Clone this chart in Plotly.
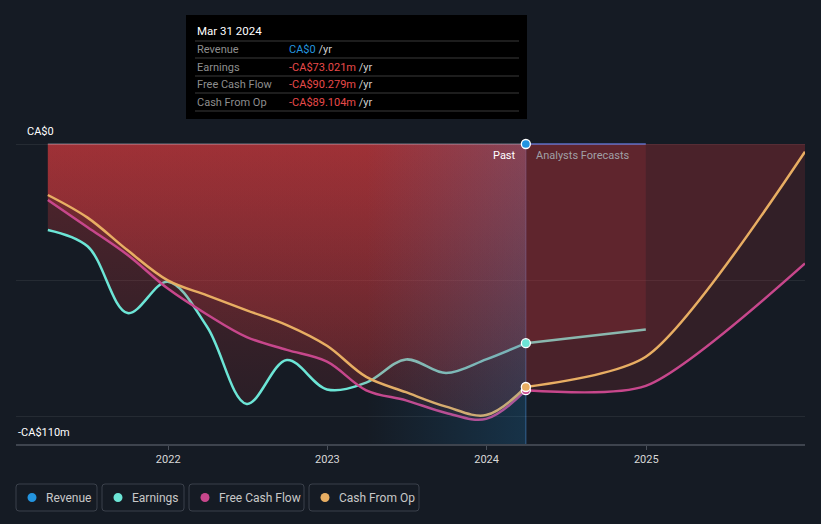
import plotly.graph_objects as go

# ---------------- data ----------------
past_dates = ['2021-03-31', '2021-06-30', '2021-09-30', '2021-12-31',
              '2022-03-31', '2022-06-30', '2022-09-30', '2022-12-31',
              '2023-03-31', '2023-06-30', '2023-09-30', '2023-12-31',
              '2024-03-31']
revenue_past = [0, 0, 0, 0, 0, 0, 0, 0, 0, 0, 0, 0, 0]
earnings_past = [-31.5, -37.5, -62.0, -50.5, -67.0, -95.3, -79.2, -90.0,
                 -87.5, -79.0, -84.0, -79.0, -73.021]
fcf_past = [-20.5, -30.5, -40.7, -53.0, -62.5, -70.8, -75.5, -79.8,
            -90.3, -94.0, -98.6, -100.8, -90.279]
cfo_past = [-18.7, -27.0, -39.0, -50.0, -55.5, -61.0, -66.4, -74.0,
            -85.4, -91.0, -96.3, -99.4, -89.104]

fc_dates_short = ['2024-03-31', '2024-12-31']
revenue_fc = [0, 0]
earnings_fc = [-73.021, -68.0]
fc_dates_long = ['2024-03-31', '2024-12-31', '2025-12-31']
fcf_fc = [-90.279, -88.7, -43.8]
cfo_fc = [-89.104, -78.0, -2.8]

year_ticks = ['2022-01-01', '2023-01-01', '2024-01-01', '2025-01-01']
year_labels = ['2022', '2023', '2024', '2025']
y_bottom = -110
series_names = ['Revenue', 'Earnings', 'Free Cash Flow', 'Cash From Op']

# ---------------- style ----------------
BG = '#151b24'
C_REV = '#2394df'
C_EARN = '#6ce5d6'
C_FCF = '#c7478c'
C_CFO = '#e8ae63'
FONT = 'Roboto, "Open Sans", sans-serif'

W, H = 821, 524
L, R, T, B = 16, 805, 0, 444


def px(x):
    return (x - L) / (R - L)


def py(y):
    return (B - y) / (B - T)


past_grad = dict(type='vertical', start=y_bottom, stop=0,
                 colorscale=[[0, 'rgba(230,60,64,0.07)'], [1, 'rgba(230,60,64,0.30)']])
fc_fill = 'rgba(225,58,62,0.14)'

fig = go.Figure()

# past fills + lines
for vals, col in [(earnings_past, C_EARN), (fcf_past, C_FCF), (cfo_past, C_CFO)]:
    fig.add_trace(go.Scatter(x=past_dates, y=vals, mode='lines',
                             line=dict(color=col, width=2.5, shape='spline', smoothing=1.0),
                             fill='tozeroy', fillgradient=past_grad,
                             hoverinfo='skip', showlegend=False))
fig.add_trace(go.Scatter(x=past_dates, y=revenue_past, mode='lines',
                         line=dict(color='rgba(210,210,225,0.35)', width=1.5),
                         hoverinfo='skip', showlegend=False))

# forecast fills + lines
for xs, vals, col in [(fc_dates_short, earnings_fc, C_EARN), (fc_dates_long, fcf_fc, C_FCF),
                      (fc_dates_long, cfo_fc, C_CFO)]:
    fig.add_trace(go.Scatter(x=xs, y=vals, mode='lines',
                             line=dict(color=col, width=2.5, shape='spline', smoothing=0.7),
                             fill='tozeroy', fillcolor=fc_fill,
                             hoverinfo='skip', showlegend=False))
fig.add_trace(go.Scatter(x=fc_dates_short, y=revenue_fc, mode='lines',
                         line=dict(color='rgba(105,130,235,0.6)', width=2),
                         hoverinfo='skip', showlegend=False))

# last-year highlight overlay
hx0, hx1 = past_dates[-5], past_dates[-1]
fig.add_trace(go.Scatter(x=[hx0, hx1, hx1, hx0, hx0], y=[0, 0, y_bottom, y_bottom, 0],
                         mode='lines', line=dict(width=0), fill='toself',
                         fillgradient=dict(type='horizontal',
                                           colorscale=[[0, 'rgba(30,150,225,0.0)'],
                                                       [1, 'rgba(30,150,225,0.19)']]),
                         hoverinfo='skip', showlegend=False))

# current-point markers
for vals, col in [(fcf_past, C_FCF), (cfo_past, C_CFO), (earnings_past, C_EARN), (revenue_past, C_REV)]:
    fig.add_trace(go.Scatter(x=[past_dates[-1]], y=[vals[-1]], mode='markers',
                             marker=dict(color=col, size=9, line=dict(color='white', width=1.3)),
                             cliponaxis=False, hoverinfo='skip', showlegend=False))

shapes = []
annotations = []

# divider line
shapes.append(dict(type='line', xref='x', yref='y', x0=past_dates[-1], x1=past_dates[-1],
                   y0=0, y1=y_bottom, line=dict(color='rgba(70,120,180,0.7)', width=1), layer='below'))

# y labels
annotations.append(dict(x=px(25), y=py(131), xref='paper', yref='paper', text='CA$0',
                        showarrow=False, xanchor='left', yanchor='middle',
                        font=dict(family=FONT, size=11, color='#ffffff')))
annotations.append(dict(x=px(16), y=py(432), xref='paper', yref='paper', text='-CA$110m',
                        showarrow=False, xanchor='left', yanchor='middle',
                        font=dict(family=FONT, size=11, color='#ffffff')))

# Past / forecast labels
annotations.append(dict(x=px(518), y=py(156), xref='paper', yref='paper', text='Past',
                        showarrow=False, xanchor='right', yanchor='middle',
                        font=dict(family=FONT, size=11, color='#ffffff')))
annotations.append(dict(x=px(534), y=py(156), xref='paper', yref='paper', text='Analysts Forecasts',
                        showarrow=False, xanchor='left', yanchor='middle',
                        font=dict(family=FONT, size=11, color='#a0a0a6')))

# tooltip box
shapes.append(dict(type='rect', xref='paper', yref='paper', x0=px(186), x1=px(527),
                   y0=py(119), y1=py(15), fillcolor='#000000', line=dict(width=0), layer='above'))
for yy in [41, 58, 76, 93, 111]:
    shapes.append(dict(type='line', xref='paper', yref='paper', x0=px(195), x1=px(519),
                       y0=py(yy), y1=py(yy), line=dict(color='#3a3a3a', width=1), layer='above'))
annotations.append(dict(x=px(195), y=py(31), xref='paper', yref='paper', text='Mar 31 2024',
                        showarrow=False, xanchor='left', yanchor='middle',
                        font=dict(family=FONT, size=11.5, color='#ffffff')))


def fmt(v):
    if v == 0:
        return 'CA$0'
    return ('-' if v < 0 else '') + 'CA$%.3fm' % abs(v)


rows = [(series_names[0], fmt(revenue_past[-1]), C_REV),
        (series_names[1], fmt(earnings_past[-1]), '#e84a4a'),
        (series_names[2], fmt(fcf_past[-1]), '#e84a4a'),
        (series_names[3], fmt(cfo_past[-1]), '#e84a4a')]
for (lab, val, col), yy in zip(rows, [49.5, 67, 84.5, 102]):
    annotations.append(dict(x=px(195), y=py(yy), xref='paper', yref='paper', text=lab,
                            showarrow=False, xanchor='left', yanchor='middle',
                            font=dict(family=FONT, size=11, color='#8e8e8e')))
    annotations.append(dict(x=px(287), y=py(yy), xref='paper', yref='paper',
                            text="<span style='color:%s'>%s</span> /yr" % (col, val),
                            showarrow=False, xanchor='left', yanchor='middle',
                            font=dict(family=FONT, size=11, color='#cfcfcf')))

# custom legend
leg_boxes = [(16, 97), (102, 184), (189, 304), (309, 419)]
leg_cols = [C_REV, C_EARN, C_FCF, C_CFO]
ly0, ly1 = 484, 511
for (bx0, bx1), name, col in zip(leg_boxes, series_names, leg_cols):
    r = 3
    path = ('M {a},{b} L {c},{b} Q {x1},{b} {x1},{d} L {x1},{e} Q {x1},{y1} {c},{y1} '
            'L {a},{y1} Q {x0},{y1} {x0},{e} L {x0},{d} Q {x0},{b} {a},{b} Z').format(
        a=px(bx0 + r), c=px(bx1 - r), b=py(ly0), d=py(ly0 + r), e=py(ly1 - r),
        x0=px(bx0), x1=px(bx1), y1=py(ly1))
    shapes.append(dict(type='path', xref='paper', yref='paper', path=path,
                       line=dict(color='#3b414b', width=1), fillcolor='rgba(0,0,0,0)'))
    cy = (ly0 + ly1) / 2
    shapes.append(dict(type='circle', xref='paper', yref='paper',
                       x0=px(bx0 + 11.5), x1=px(bx0 + 20.5), y0=py(cy - 4.5), y1=py(cy + 4.5),
                       fillcolor=col, line=dict(width=0)))
    annotations.append(dict(x=px(bx0 + 28), y=py(cy), xref='paper', yref='paper', text=name,
                            showarrow=False, xanchor='left', yanchor='middle',
                            font=dict(family=FONT, size=12, color='#c8c8c8')))

fig.update_layout(
    width=W, height=H,
    margin=dict(l=L, r=W - R, t=T, b=H - B),
    paper_bgcolor=BG, plot_bgcolor=BG,
    showlegend=False,
    font=dict(family=FONT, color='#d0d0d0'),
    shapes=shapes, annotations=annotations,
    hovermode=False,
    xaxis=dict(type='date', range=['2021-01-17', '2025-12-31'],
               tickmode='array', tickvals=year_ticks, ticktext=year_labels,
               ticks='outside', ticklen=4, tickcolor='#4a505a',
               showline=True, linecolor='#3e444e', linewidth=1.5,
               showgrid=False, zeroline=False,
               tickfont=dict(family=FONT, size=11, color='#d8d8d8')),
    yaxis=dict(range=[y_bottom, 52.8], tickmode='array', tickvals=[0, -50, -100],
               showticklabels=False, gridcolor='rgba(255,255,255,0.07)', gridwidth=1,
               zeroline=False, showline=False, ticks=''),
)

fig.write_html('out.html', config={'displayModeBar': False})
